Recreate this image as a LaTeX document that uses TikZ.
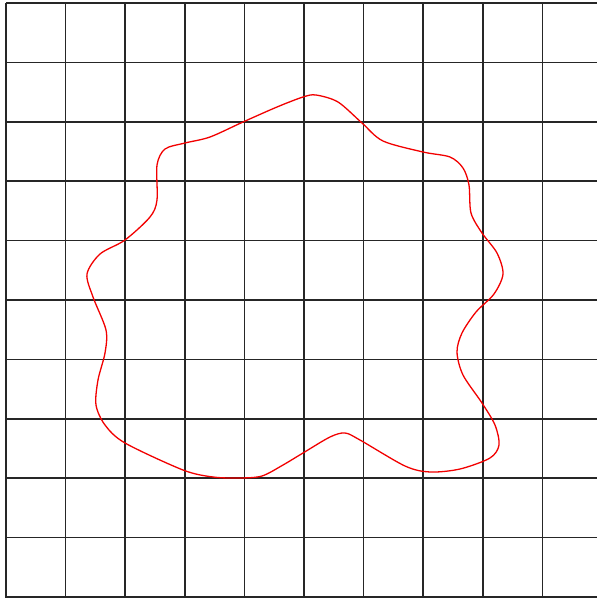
\documentclass[tikz,border=0pt]{standalone}
\begin{document}
\begin{tikzpicture}[x=1pt,y=-1pt,
  gridline/.style={line width=1.6pt,draw=black!85},
  curve/.style={line width=1.3pt,draw=red!95!black}]
\useasboundingbox (0,0) rectangle (597,598);
\fill[white] (0,0) rectangle (597,598);
\foreach \i in {0,...,9} {
  \draw[gridline] ({6+59.6*\i},3) -- ({6+59.6*\i},598);
}
\foreach \j in {0,...,10} {
  \draw[gridline] (6,{3+59.4*\j}) -- (597,{3+59.4*\j});
}
\draw[curve] plot[smooth cycle, tension=0.5] coordinates {
(87,274) (100,254) (125,240) (150,217) (157,200) (157,165) (165,149) (185,143)
(210,137) (243,122) (277,107) (303,97) (316,95) (338,102) (362,123) (383,141)
(423,152) (450,157) (463,168) (469,185) (471,213) (482,233) (497,253) (503,274)
(494,294) (476,312) (462,333) (457,352) (463,375) (482,403) (495,425) (499,445)
(490,458) (460,469) (430,472) (405,466) (360,440) (345,433) (330,437) (303,453)
(283,465) (262,476) (240,478) (213,477) (183,470) (125,443) (105,425) (96,405)
(98,380) (105,353) (106,330) (93,297)};
\end{tikzpicture}
\end{document}
